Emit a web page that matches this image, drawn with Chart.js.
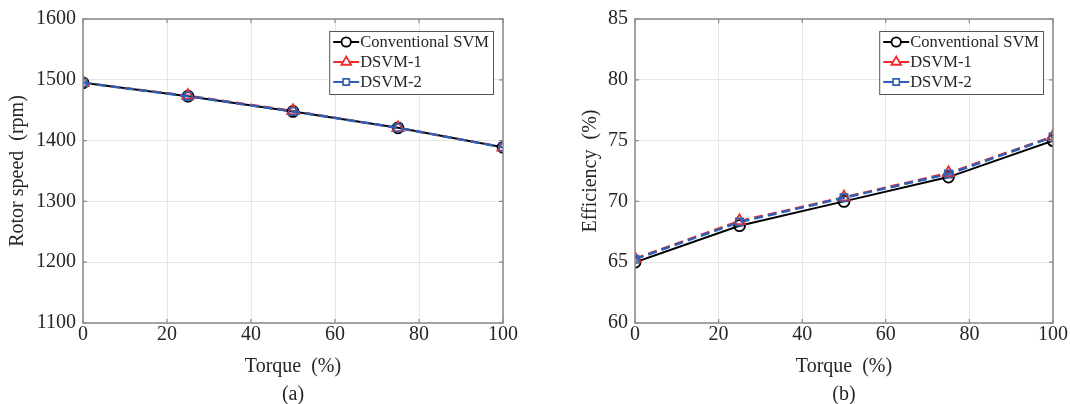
<!DOCTYPE html>
<html>
<head>
<meta charset="utf-8">
<script src="https://cdn.jsdelivr.net/npm/chart.js@4.4.1/dist/chart.umd.min.js"></script>
<style>
  html, body { margin: 0; padding: 0; background: #fff; }
  #wrap { position: relative; width: 1070px; height: 404px; overflow: hidden; }
  .panel { position: absolute; top: 0; }
</style>
</head>
<body>
<div id="wrap">
  <canvas id="chartA" class="panel" style="left:0" width="535" height="404"></canvas>
  <canvas id="chartB" class="panel" style="left:535px" width="535" height="404"></canvas>
</div>
<script>
// --- Datos ---
const torque = [0, 25, 50, 75, 100];
const torqueTicks = [0, 20, 40, 60, 80, 100];
const seriesNames = ["Conventional SVM", "DSVM-1", "DSVM-2"];

const speedConv = [1495, 1473, 1448, 1421, 1389];
const speedDsvm1 = [1495, 1474, 1449, 1421, 1389];
const speedDsvm2 = [1495, 1473, 1448, 1421, 1389];
const speedTicks = [1100, 1200, 1300, 1400, 1500, 1600];

const effConv = [65, 68, 70, 72, 75];
const effDsvm1 = [65.3, 68.4, 70.35, 72.35, 75.35];
const effDsvm2 = [65.25, 68.3, 70.3, 72.25, 75.3];
const effTicks = [60, 65, 70, 75, 80, 85];

const FONT = "'Liberation Serif', 'DejaVu Serif', serif";
const TEXT = "#262626";
const AXIS = "#8a8a8a";

const toPoints = (ys) => torque.map((x, i) => ({ x: x, y: ys[i] }));

function makeDatasets(conv, d1, d2) {
  return [
    { label: seriesNames[0], data: toPoints(conv), borderColor: "#000000", borderWidth: 2,
      pointStyle: "circle", pointRadius: 5.5, pointBorderWidth: 1.8, pointBackgroundColor: "rgba(0,0,0,0)", order: 2 },
    { label: seriesNames[1], data: toPoints(d1), borderColor: "#f22b2b", borderWidth: 2, borderDash: [9, 5],
      pointStyle: "triangle", pointRadius: 6.5, pointBorderWidth: 1.8, pointBackgroundColor: "rgba(0,0,0,0)", order: 1 },
    { label: seriesNames[2], data: toPoints(d2), borderColor: "#2f5fb3", borderWidth: 2.5, borderDash: [9, 5],
      pointStyle: "rect", pointRadius: 5.2, pointBorderWidth: 1.6, pointBackgroundColor: "rgba(0,0,0,0)", order: 0 }
  ];
}

// --- Caja estilo MATLAB + leyenda ---
const boxPlugin = {
  id: "boxPlugin",
  afterDatasetsDraw(chart) {
    const { ctx, chartArea: a, scales } = chart;
    ctx.save();
    ctx.strokeStyle = AXIS;
    ctx.lineWidth = 1.5;
    ctx.strokeRect(a.left, a.top, a.right - a.left, a.bottom - a.top);
    // marcas hacia adentro
    ctx.lineWidth = 1.2;
    scales.y.ticks.forEach(t => {
      const y = scales.y.getPixelForValue(t.value);
      ctx.beginPath();
      ctx.moveTo(a.left, y); ctx.lineTo(a.left + 4, y);
      ctx.moveTo(a.right, y); ctx.lineTo(a.right - 4, y);
      ctx.stroke();
    });
    scales.x.ticks.forEach(t => {
      const x = scales.x.getPixelForValue(t.value);
      ctx.beginPath();
      ctx.moveTo(x, a.bottom); ctx.lineTo(x, a.bottom - 4);
      ctx.moveTo(x, a.top); ctx.lineTo(x, a.top + 4);
      ctx.stroke();
    });

    // leyenda
    ctx.font = "16.5px " + FONT;
    const widths = chart.data.datasets.map(d => ctx.measureText(d.label).width);
    const w = 31 + Math.max(...widths) + 4;
    const h = 63;
    const x0 = a.right - 10 - w;
    const y0 = a.top + 12;
    ctx.fillStyle = "#ffffff";
    ctx.fillRect(x0, y0, w, h);
    ctx.strokeStyle = "#555555";
    ctx.lineWidth = 1;
    ctx.strokeRect(x0 + 0.5, y0 + 0.5, w, h);
    chart.data.datasets.forEach((d, i) => {
      const yy = y0 + 11 + i * 20;
      ctx.strokeStyle = d.borderColor;
      ctx.lineWidth = 2;
      ctx.setLineDash([]);
      ctx.beginPath();
      ctx.moveTo(x0 + 4, yy); ctx.lineTo(x0 + 30, yy);
      ctx.stroke();
      ctx.fillStyle = "#ffffff";
      ctx.lineWidth = d.pointBorderWidth;
      Chart.helpers.drawPoint(ctx, { pointStyle: d.pointStyle, radius: d.pointRadius * 0.85, rotation: 0, borderWidth: d.pointBorderWidth }, x0 + 17, yy);
      ctx.fillStyle = TEXT;
      ctx.textBaseline = "middle";
      ctx.textAlign = "left";
      ctx.fillText(d.label, x0 + 31, yy + 1);
    });
    ctx.restore();
  }
};

function crearGrafico(id, datasets, yTicks, yTitle, panel, yWidth, rightPad, yTitlePad) {
  const ctx = document.getElementById(id).getContext("2d");
  return new Chart(ctx, {
    type: "line",
    data: { datasets: datasets },
    options: {
      responsive: false,
      animation: false,
      devicePixelRatio: 1,
      layout: { padding: { top: 16, right: rightPad, left: 0, bottom: 0 } },
      plugins: { legend: { display: false }, tooltip: { enabled: false } },
      scales: {
        x: {
          type: "linear", min: torqueTicks[0], max: torqueTicks[torqueTicks.length - 1],
          afterBuildTicks: (s) => { s.ticks = torqueTicks.map(v => ({ value: v })); },
          afterFit: (s) => { s.height = 81; },
          grid: { color: "#e6e6e6", lineWidth: 1, drawTicks: false },
          border: { display: false },
          ticks: { color: TEXT, padding: 2, font: { family: FONT, size: 20, lineHeight: 1 }, maxRotation: 0,
                   callback: (v) => String(v) },
          title: { display: true, text: ["Torque  (%)", panel], color: TEXT,
                   font: { family: FONT, size: 20, lineHeight: 1.4 }, padding: { top: 0, bottom: -5 } }
        },
        y: {
          type: "linear", min: yTicks[0], max: yTicks[yTicks.length - 1],
          afterBuildTicks: (s) => { s.ticks = yTicks.map(v => ({ value: v })); },
          afterFit: (s) => { s.width = yWidth; },
          grid: { color: "#e6e6e6", lineWidth: 1, drawTicks: false },
          border: { display: false },
          ticks: { color: TEXT, padding: 7, font: { family: FONT, size: 20 }, callback: (v) => String(v) },
          title: { display: true, text: yTitle, color: TEXT,
                   font: { family: FONT, size: 20, lineHeight: 1.2 }, padding: { top: yTitlePad, bottom: 0 } }
        }
      }
    },
    plugins: [boxPlugin]
  });
}

crearGrafico("chartA", makeDatasets(speedConv, speedDsvm1, speedDsvm2), speedTicks, "Rotor speed  (rpm)", "(a)", 83, 32, 6);
crearGrafico("chartB", makeDatasets(effConv, effDsvm1, effDsvm2), effTicks, "Efficiency  (%)", "(b)", 100, 14.5, 44);
</script>
</body>
</html>
